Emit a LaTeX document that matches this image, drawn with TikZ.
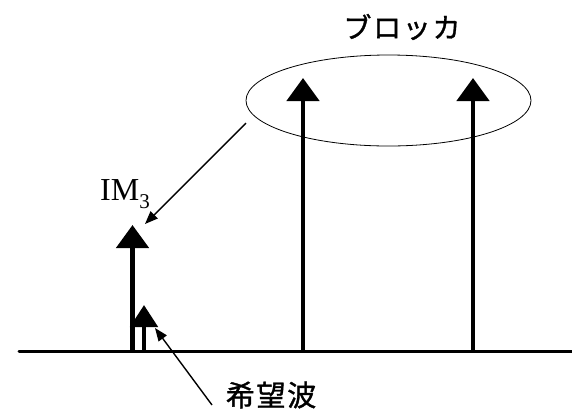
\documentclass[tikz,border=0pt]{standalone}
\usepackage{fontspec}
\setmainfont{Liberation Serif}
\newfontfamily\jpfont[LetterSpace=6,FakeBold=1.2]{Noto Sans CJK JP}
\usetikzlibrary{arrows.meta,shapes.geometric}
\tikzset{
  thickarrow/.style={line width=4.8pt, -{Triangle[width=32pt,length=23pt]}},
  smallarrow/.style={line width=4.8pt, -{Triangle[width=27pt,length=22pt]}},
  thinarrow/.style={line width=1.4pt, -{Triangle[width=10pt,length=13pt]}},
  baseline axis/.style={line width=3pt},
  label jp/.style={inner sep=0pt, font=\jpfont\fontsize{28}{32}\selectfont},
}
\begin{document}
\begin{tikzpicture}[x=1pt,y=-1pt]
\useasboundingbox (0,0) rectangle (572,416);
% baseline
\coordinate (axL) at (19,351);
\coordinate (axR) at (572,351);
\draw[baseline axis, line cap=round] (axL) -- (axR);
% stems
\coordinate (im3b) at (132.5,351);
\coordinate (im3t) at (132.5,225);
\coordinate (desb) at (144,351);
\coordinate (dest) at (144,305);
\coordinate (b1b) at (303,351);
\coordinate (b1t) at (303,78);
\coordinate (b2b) at (473,351);
\coordinate (b2t) at (473,78);
\draw[thickarrow] (im3b) -- (im3t);
\draw[smallarrow] (desb) -- (dest);
\draw[thickarrow] (b1b) -- (b1t);
\draw[thickarrow] (b2b) -- (b2t);
% ellipse around blockers
\node[draw, line width=0.8pt, ellipse, minimum width=285pt, minimum height=91pt, inner sep=0pt] (blk) at (388.5,100.5) {};
% labels
\node[label jp] (blocker) at (402,27) {ブロッカ};
\node[inner sep=0pt, anchor=base west, font=\fontsize{32}{38}\selectfont] (im3) at (100,200) {IM\raisebox{-0.28em}{\fontsize{21}{25}\selectfont 3}};
\node[label jp, font=\jpfont\fontsize{29}{34}\selectfont] (wanted) at (271,395) {希望波};
% thin arrows
\coordinate (a1s) at (246,123);
\coordinate (a1e) at (145,224);
\draw[thinarrow] (a1s) -- (a1e);
\coordinate (a2s) at (212,405);
\coordinate (a2e) at (155,328);
\draw[thinarrow] (a2s) -- (a2e);
\end{tikzpicture}
\end{document}
